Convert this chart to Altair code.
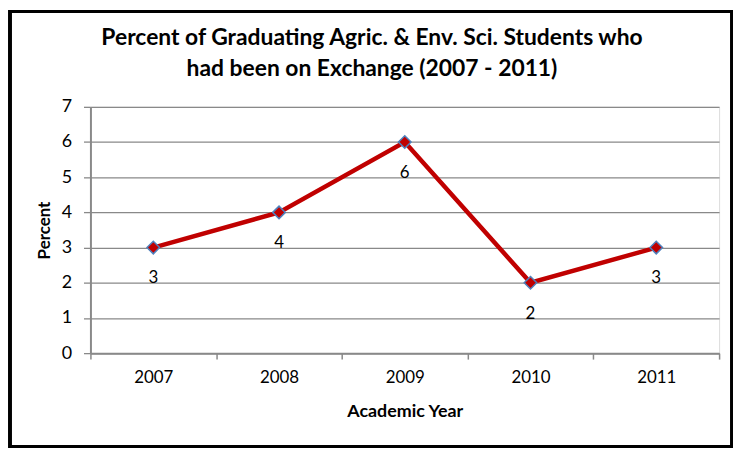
import altair as alt
import pandas as pd

years = ["2007", "2008", "2009", "2010", "2011"]
percent = [3, 4, 6, 2, 3]
y_ticks = [0, 1, 2, 3, 4, 5, 6, 7]

df = pd.DataFrame({"year": years, "percent": percent})

W, H = 633, 248
PAD = {"left": 83, "top": 98, "right": 14, "bottom": 95}
FONT = "Lato"

x_enc = alt.X(
    "year:N",
    sort=years,
    scale=alt.Scale(type="band", paddingInner=0, paddingOuter=0),
    axis=alt.Axis(
        title="Academic Year",
        labelAngle=0,
        tickBand="extent",
        tickSize=6,
        labelPadding=11,
        labelFontSize=17,
        labelFont=FONT,
        labelColor="black",
        titleFont=FONT,
        titleFontSize=18,
        titleFontWeight="bold",
        titleColor="black",
        titleY=59,
        titleBaseline="middle",
        grid=False,
        domainColor="#898989",
        domainWidth=2,
        tickColor="#898989",
        tickWidth=1.5,
    ),
)
y_enc = alt.Y(
    "percent:Q",
    scale=alt.Scale(domain=[0, 7], nice=False),
    axis=alt.Axis(
        title="Percent",
        values=y_ticks,
        tickCount=8,
        labelOverlap=False,
        tickSize=7,
        labelPadding=12,
        labelFontSize=18,
        labelFont=FONT,
        labelColor="black",
        titleFont=FONT,
        titleFontSize=17,
        titleFontWeight="bold",
        titleColor="black",
        titleX=-46,
        titleY=H / 2,
        titleAngle=-90,
        titleAlign="center",
        titleBaseline="middle",
        grid=True,
        gridColor="#898989",
        gridWidth=1.3,
        domainColor="#898989",
        domainWidth=2,
        tickColor="#898989",
        tickWidth=1.3,
    ),
)

base = alt.Chart(df)

frame = base.mark_rect(
    fill=None, stroke="black", strokeWidth=3, clip=False
).encode(
    x=alt.value(-PAD["left"] + 2),
    x2=alt.value(W + PAD["right"] - 1),
    y=alt.value(-PAD["top"] + 2),
    y2=alt.value(H + PAD["bottom"] - 1),
)

line = base.mark_line(color="#C00000", strokeWidth=4.5).encode(x=x_enc, y=y_enc)

points = base.mark_point(
    shape="diamond", size=160, filled=True, fill="#C00000",
    stroke="#4F81BD", strokeWidth=1.5, opacity=1
).encode(x=x_enc, y=y_enc)

labels = base.mark_text(
    dy=31, fontSize=17, font=FONT, color="black"
).encode(x=x_enc, y=y_enc, text="percent:Q")

chart = alt.layer(frame, line, points, labels).properties(
    width=W,
    height=H,
    autosize=alt.AutoSizeParams(type="none"),
    padding=PAD,
    title=alt.TitleParams(
        text=["Percent of Graduating Agric. & Env. Sci. Students who",
              "had been on Exchange (2007 - 2011)"],
        font=FONT,
        fontSize=23,
        fontWeight="bold",
        color="black",
        anchor="middle",
        lineHeight=31,
        offset=0,
        dx=-33,
        dy=71,
    ),
).configure_view(stroke=None).configure(background="white")

chart.save("out.html", embed_options={"renderer": "svg", "actions": False})
